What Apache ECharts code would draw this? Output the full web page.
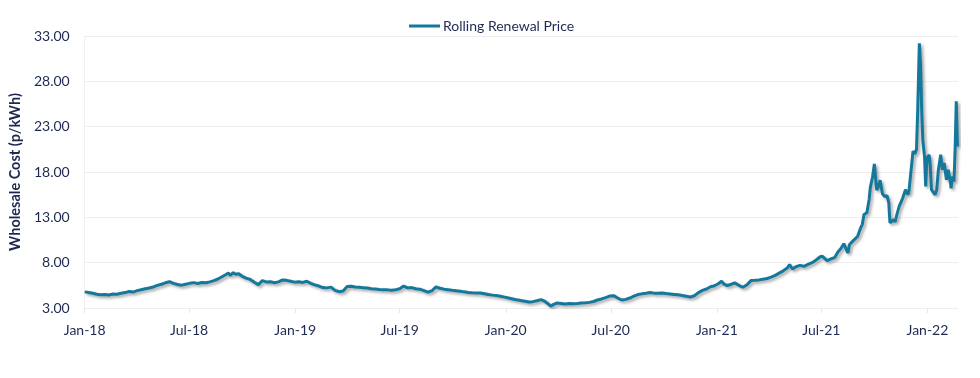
<!DOCTYPE html>
<html>
<head>
<meta charset="utf-8">
<script src="https://cdn.jsdelivr.net/npm/echarts@6/dist/echarts.min.js"></script>
<style>
html,body{margin:0;padding:0;background:#fff;}
#chart{width:980px;height:378px;}
</style>
</head>
<body>
<div id="chart"></div>
<script>
const seriesName = 'Rolling Renewal Price';
const yTitle = 'Wholesale Cost (p/kWh)';
const tickDates = ['2018-01-01','2018-07-01','2019-01-01','2019-07-01','2020-01-01','2020-07-01','2021-01-01','2021-07-01','2022-01-01'];
const monthNames = ['Jan','Feb','Mar','Apr','May','Jun','Jul','Aug','Sep','Oct','Nov','Dec'];
const axisStart = '2018-01-01';
const axisEnd = '2022-02-23';

const dates = [
'2018-01-01','2018-01-08','2018-01-15','2018-01-22','2018-01-29','2018-02-05','2018-02-12','2018-02-19','2018-02-26',
'2018-03-05','2018-03-12','2018-03-19','2018-03-26','2018-04-02','2018-04-09','2018-04-16','2018-04-23','2018-04-30',
'2018-05-07','2018-05-14','2018-05-21','2018-05-28','2018-06-04','2018-06-11','2018-06-18','2018-06-25',
'2018-07-02','2018-07-09','2018-07-16','2018-07-23','2018-07-30','2018-08-06','2018-08-13','2018-08-20','2018-08-27',
'2018-09-03','2018-09-07','2018-09-11','2018-09-15','2018-09-20','2018-09-25','2018-10-01','2018-10-08','2018-10-15',
'2018-10-22','2018-10-29','2018-11-05','2018-11-12','2018-11-19','2018-11-26','2018-12-03','2018-12-10','2018-12-17',
'2018-12-24','2018-12-31',
'2019-01-07','2019-01-14','2019-01-21','2019-01-28','2019-02-04','2019-02-11','2019-02-18','2019-02-25',
'2019-03-04','2019-03-11','2019-03-18','2019-03-25','2019-04-01','2019-04-08','2019-04-15','2019-04-22','2019-04-29',
'2019-05-06','2019-05-13','2019-05-20','2019-05-27','2019-06-03','2019-06-10','2019-06-17','2019-06-24',
'2019-07-01','2019-07-08','2019-07-15','2019-07-22','2019-07-29','2019-08-05','2019-08-12','2019-08-19','2019-08-26',
'2019-09-02','2019-09-09','2019-09-16','2019-09-23','2019-09-30','2019-10-07','2019-10-14','2019-10-21','2019-10-28',
'2019-11-04','2019-11-11','2019-11-18','2019-11-25','2019-12-02','2019-12-09','2019-12-16','2019-12-23','2019-12-30',
'2020-01-06','2020-01-13','2020-01-20','2020-01-27','2020-02-03','2020-02-10','2020-02-17','2020-02-24',
'2020-03-02','2020-03-09','2020-03-14','2020-03-19','2020-03-24','2020-03-30','2020-04-06','2020-04-13','2020-04-20','2020-04-27',
'2020-05-04','2020-05-11','2020-05-18','2020-05-25','2020-06-01','2020-06-08','2020-06-15','2020-06-22','2020-06-29',
'2020-07-06','2020-07-13','2020-07-20','2020-07-27','2020-08-03','2020-08-10','2020-08-17','2020-08-24','2020-08-31',
'2020-09-07','2020-09-14','2020-09-21','2020-09-28','2020-10-05','2020-10-12','2020-10-19','2020-10-26',
'2020-11-02','2020-11-09','2020-11-16','2020-11-23','2020-11-30','2020-12-07','2020-12-14','2020-12-21','2020-12-28',
'2021-01-04','2021-01-09','2021-01-14','2021-01-19','2021-01-26','2021-02-01','2021-02-08','2021-02-15','2021-02-22',
'2021-03-01','2021-03-08','2021-03-15','2021-03-22','2021-03-29','2021-04-05','2021-04-12','2021-04-19','2021-04-26',
'2021-05-03','2021-05-07','2021-05-12','2021-05-18','2021-05-25','2021-06-01','2021-06-08','2021-06-15','2021-06-22','2021-06-29',
'2021-07-03','2021-07-11','2021-07-17','2021-07-24','2021-07-30','2021-08-04','2021-08-09','2021-08-12','2021-08-16','2021-08-19','2021-08-25',
'2021-09-02','2021-09-05','2021-09-07','2021-09-10','2021-09-13','2021-09-18','2021-09-22','2021-09-24','2021-09-28',
'2021-10-01','2021-10-05','2021-10-08','2021-10-11','2021-10-15','2021-10-19','2021-10-23','2021-10-26','2021-10-28','2021-10-31',
'2021-11-03','2021-11-06','2021-11-09','2021-11-13','2021-11-19','2021-11-24','2021-11-28','2021-11-30',
'2021-12-03','2021-12-07','2021-12-10','2021-12-13','2021-12-15','2021-12-18','2021-12-20','2021-12-22','2021-12-24','2021-12-27','2021-12-29','2021-12-31',
'2022-01-04','2022-01-06','2022-01-08','2022-01-11','2022-01-14','2022-01-17','2022-01-20','2022-01-24','2022-01-27','2022-01-30',
'2022-02-03','2022-02-06','2022-02-10','2022-02-11','2022-02-13','2022-02-16','2022-02-18','2022-02-20','2022-02-22'
];

const prices = [
4.78,4.70,4.62,4.52,4.47,4.50,4.44,4.55,4.52,
4.62,4.70,4.82,4.76,4.92,5.02,5.12,5.20,5.32,
5.50,5.62,5.78,5.90,5.72,5.60,5.52,5.62,
5.72,5.80,5.70,5.82,5.78,5.88,6.02,6.20,6.45,
6.70,6.85,6.60,6.90,6.72,6.78,6.50,6.30,6.15,
5.85,5.58,6.02,5.88,5.90,5.78,5.88,6.10,6.05,
5.95,5.85,
5.90,5.82,5.95,5.72,5.55,5.42,5.25,5.22,
5.30,4.95,4.80,4.88,5.38,5.40,5.32,5.28,5.24,
5.20,5.12,5.10,5.05,5.02,5.00,4.95,5.02,
5.12,5.42,5.22,5.25,5.12,5.08,4.92,4.75,4.90,
5.32,5.18,5.08,5.02,4.95,4.90,4.85,4.78,4.72,
4.68,4.65,4.66,4.58,4.48,4.42,4.38,4.30,4.20,
4.10,4.00,3.90,3.82,3.75,3.66,3.70,3.80,
3.92,3.72,3.48,3.20,3.40,3.55,3.50,3.45,3.50,3.46,
3.50,3.55,3.57,3.62,3.72,3.88,4.00,4.15,4.32,
4.36,4.10,3.88,3.95,4.10,4.30,4.48,4.56,4.62,
4.70,4.64,4.62,4.66,4.60,4.55,4.50,4.45,
4.38,4.30,4.22,4.35,4.70,4.95,5.10,5.35,5.45,
5.70,5.95,5.60,5.48,5.62,5.77,5.50,5.29,5.55,
6.02,6.05,6.10,6.18,6.25,6.40,6.60,6.85,7.10,
7.40,7.80,7.30,7.55,7.70,7.60,7.80,8.00,8.30,8.65,
8.70,8.23,8.40,8.55,9.20,9.55,10.10,10.18,9.07,10.00,10.40,
10.90,10.90,11.80,12.20,13.30,13.50,15.00,16.30,17.50,
18.90,16.00,16.40,17.10,15.60,15.30,15.40,14.60,12.40,12.50,
12.75,12.50,13.30,14.20,15.10,16.05,15.50,15.90,
17.80,20.30,20.00,20.46,24.50,32.20,30.00,25.00,21.50,19.70,16.40,19.50,
19.90,18.60,16.05,16.10,15.50,16.00,18.25,19.90,18.25,19.00,
17.15,18.25,16.80,16.20,17.50,16.95,20.46,25.80,20.80
];

const textColor = '#1d2951';
const fontFamily = 'Lato, "Noto Sans", sans-serif';
const lineColor = '#13789b';

function ts(s) { return Date.parse(s + 'T00:00:00Z'); }
const tickValues = tickDates.map(ts);

const chart = echarts.init(document.getElementById('chart'), null, {renderer: 'canvas'});
chart.setOption({
  animation: false,
  backgroundColor: '#ffffff',
  textStyle: {fontFamily: fontFamily, color: textColor},
  legend: {
    data: [seriesName],
    left: 404,
    top: 14,
    icon: 'rect',
    itemWidth: 31,
    itemHeight: 3,
    itemGap: 4,
    textStyle: {fontSize: 14, color: textColor, fontFamily: fontFamily, padding: [0, 0, 0, -2]}
  },
  grid: {left: 79, right: 22, top: 36, bottom: 70, containLabel: false},
  xAxis: {
    type: 'value',
    min: ts(axisStart),
    max: ts(axisEnd),
    splitLine: {show: false},
    axisLine: {show: true, lineStyle: {color: '#eeeeee', width: 1}},
    axisTick: {show: true, customValues: tickValues, length: 5, lineStyle: {color: '#e6e6e6'}},
    axisLabel: {
      customValues: tickValues,
      fontSize: 14,
      color: textColor,
      margin: 15,
      fontFamily: fontFamily,
      formatter: function (v) {
        const d = new Date(v);
        return monthNames[d.getUTCMonth()] + '-' + String(d.getUTCFullYear()).slice(2);
      }
    }
  },
  yAxis: {
    type: 'value',
    min: 3,
    max: 33,
    interval: 5,
    name: yTitle,
    nameLocation: 'middle',
    nameGap: 55,
    nameTextStyle: {fontSize: 14.5, fontWeight: 'bold', color: textColor, fontFamily: fontFamily},
    axisLine: {show: true, lineStyle: {color: '#f0f0f0'}},
    axisTick: {show: false},
    splitLine: {show: true, lineStyle: {color: '#eeeeee', width: 1}},
    axisLabel: {
      fontSize: 14,
      color: textColor,
      margin: 15,
      fontFamily: fontFamily,
      formatter: function (v) { return v.toFixed(2); }
    }
  },
  series: [{
    name: seriesName,
    type: 'line',
    showSymbol: false,
    symbol: 'none',
    data: dates.map(function (d, i) { return [ts(d), prices[i]]; }),
    itemStyle: {color: lineColor},
    lineStyle: {
      color: lineColor,
      width: 3,
      shadowColor: 'rgba(0,0,0,0.35)',
      shadowBlur: 3,
      shadowOffsetX: 2,
      shadowOffsetY: 2
    }
  }]
});
</script>
</body>
</html>
